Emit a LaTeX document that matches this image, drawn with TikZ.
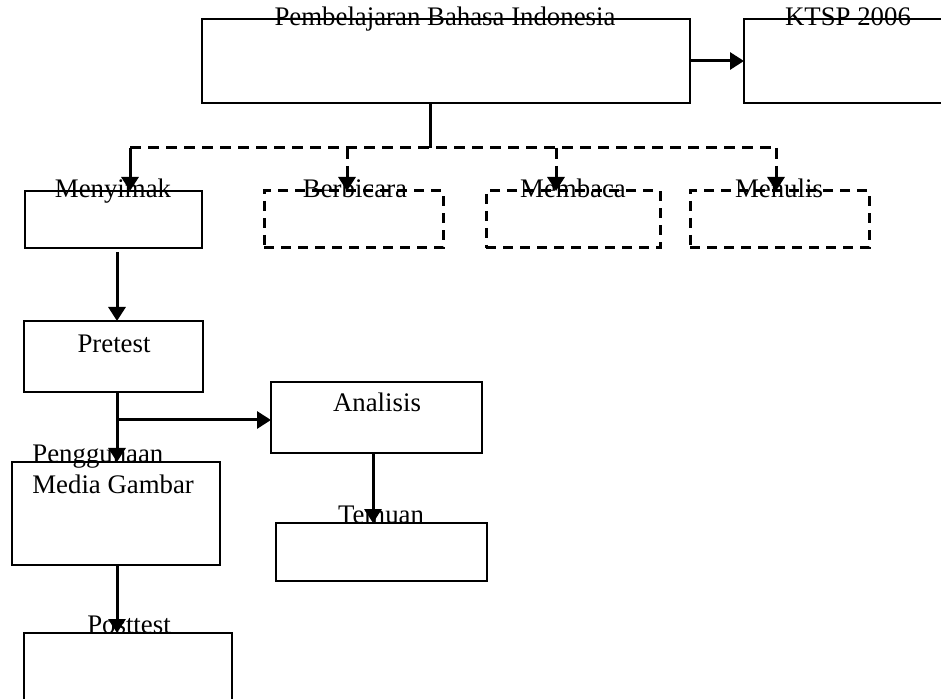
\documentclass[tikz,border=0pt]{standalone}
\usepackage{fontspec}
\setmainfont{Liberation Serif}
\usetikzlibrary{arrows.meta}
\begin{document}
\begin{tikzpicture}[x=0.5pt,y=-0.5pt,
  box/.style={draw,line width=1.2pt,inner sep=0pt,outer sep=0pt},
  dbox/.style={draw,line width=1.5pt,dash pattern=on 5pt off 3.5pt,inner sep=0pt,outer sep=0pt},
  lbl/.style={inner sep=0pt,anchor=base,font=\fontsize{13.4}{16}\selectfont},
  conn/.style={line width=1.5pt},
  arr/.style={line width=1.5pt,-{Triangle[length=7pt,width=8.5pt]}},
  darr/.style={line width=1.5pt,dash pattern=on 5.5pt off 3.5pt,-{Triangle[length=7pt,width=8.5pt]}}]
\useasboundingbox (0,0) rectangle (941,699);
% labels
\node[lbl] (tpbi) at (445,26) {Pembelajaran Bahasa Indonesia};
\node[lbl] (tktsp) at (848,26) {KTSP 2006};
\node[lbl] (tmen) at (113,198) {Menyimak};
\node[lbl] (tber) at (355,198) {Berbicara};
\node[lbl] (tmem) at (573,198) {Membaca};
\node[lbl] (tmnl) at (779,198) {Menulis};
\node[lbl] (tpre) at (114,353) {Pretest};
\node[lbl] (tana) at (377,412) {Analisis};
\node[lbl,anchor=base west,align=left] (tpen) at (32,494) {Penggunaan\\Media Gambar};
\node[lbl] (ttem) at (381,523) {Temuan};
\node[lbl] (tpos) at (129,633) {Posttest};
% boxes
\node[box,minimum width=244pt,minimum height=42pt] (pbi) at (446,61) {};
\node[box,minimum width=104pt,minimum height=42pt] (ktsp) at (848,61) {};
\node[box,minimum width=88.5pt,minimum height=28.5pt] (menyimak) at (113.5,219.5) {};
\node[dbox,minimum width=89.5pt,minimum height=28.5pt] (berbicara) at (353.5,219.5) {};
\node[dbox,minimum width=87pt,minimum height=28.5pt] (membaca) at (573,219.5) {};
\node[dbox,minimum width=89.5pt,minimum height=28.5pt] (menulis) at (779.5,219.5) {};
\node[box,minimum width=89.5pt,minimum height=35.5pt] (pretest) at (113.5,356.5) {};
\node[box,minimum width=105.5pt,minimum height=35.5pt] (analisis) at (376.5,417.5) {};
\node[box,minimum width=104pt,minimum height=51.5pt] (penggunaan) at (116,513.5) {};
\node[box,minimum width=105.5pt,minimum height=29pt] (temuan) at (381.5,552) {};
\node[box,minimum width=104pt,minimum height=45pt] (posttest) at (128,678) {};
% connector points
\coordinate (hub) at (430,148);
\coordinate (d1) at (130,148);
\coordinate (d2) at (347,148);
\coordinate (d3) at (556,148);
\coordinate (d4) at (776,148);
\coordinate (c1) at (117,252);
\coordinate (c2) at (117,420);
\coordinate (c3) at (373,453);
% connectors
\draw[arr] (pbi.east) -- (ktsp.west);
\draw[conn] (pbi.south -| hub) -- (hub);
\draw[conn,dash pattern=on 5.5pt off 3.5pt] (d1) -- (d4);
\draw[arr] (d1) -- (d1 |- menyimak.north);
\draw[darr] (d2) -- (d2 |- berbicara.north);
\draw[darr] (d3) -- (d3 |- membaca.north);
\draw[darr] (d4) -- (d4 |- menulis.north);
\draw[arr] (c1) -- (c1 |- pretest.north);
\draw[arr] (pretest.south -| c2) -- (c2 |- penggunaan.north);
\draw[arr] (c2) -- (c2 -| analisis.west);
\draw[arr] (c3) -- (c3 |- temuan.north);
\draw[arr] (penggunaan.south -| c2) -- (c2 |- posttest.north);
\end{tikzpicture}
\end{document}
